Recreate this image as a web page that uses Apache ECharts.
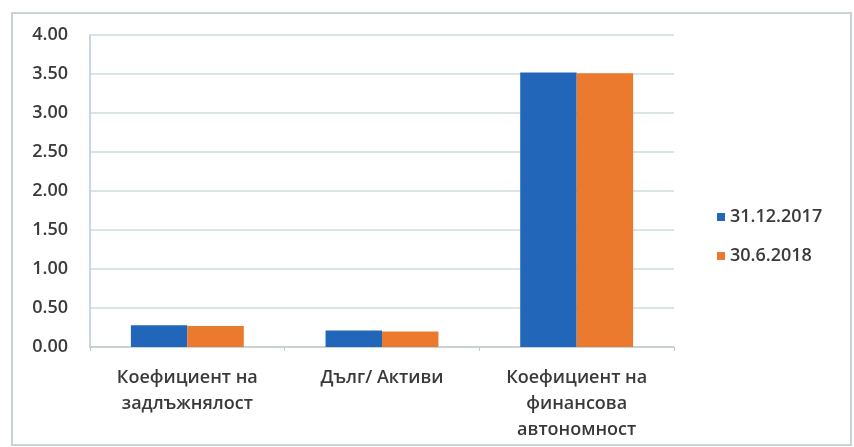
<!DOCTYPE html>
<html>
<head>
<meta charset="utf-8">
<script src="https://cdn.jsdelivr.net/npm/echarts@6/dist/echarts.min.js"></script>
<style>
html,body{margin:0;padding:0;background:#fff;}
#c{width:854px;height:447px;}
</style>
</head>
<body>
<div id="c"></div>
<script>
var categories = ['Коефициент на\nзадлъжнялост', 'Дълг/ Активи', 'Коефициент на\nфинансова\nавтономност'];
var seriesNames = ['31.12.2017', '30.6.2018'];
var values2017 = [0.28, 0.21, 3.52];
var values2018 = [0.27, 0.20, 3.51];
var colors = ['#2266b9', '#ec7a2e'];

var chart = echarts.init(document.getElementById('c'));
var font = '"Open Sans", "DejaVu Sans", sans-serif';
chart.setOption({
  animation: false,
  backgroundColor: '#ffffff',
  color: colors,
  graphic: [{
    type: 'rect',
    shape: {x: 12, y: 13, width: 839, height: 432},
    style: {fill: 'none', stroke: '#c9d3d3', lineWidth: 2}
  }],
  legend: {
    orient: 'vertical',
    left: 712,
    top: 203,
    itemWidth: 8,
    itemHeight: 8,
    itemGap: 21,
    icon: 'rect',
    textStyle: {color: '#3a3a3a', fontSize: 18, fontWeight: 600, fontFamily: font},
    data: seriesNames
  },
  grid: {left: 90, right: 180, top: 35, bottom: 100, containLabel: false},
  xAxis: {
    type: 'category',
    data: categories,
    axisLine: {show: true, lineStyle: {color: '#c4cccc', width: 1.5}},
    axisTick: {show: true, length: 4, lineStyle: {color: '#c4cccc'}},
    axisLabel: {color: '#3a3a3a', fontSize: 18, fontWeight: 600, fontFamily: font, lineHeight: 26, margin: 18, interval: 0}
  },
  yAxis: {
    type: 'value',
    min: 0,
    max: 4,
    interval: 0.5,
    axisLine: {show: true, lineStyle: {color: '#b8c8d8', width: 1.5}},
    axisTick: {show: false},
    axisLabel: {color: '#3a3a3a', fontSize: 18, fontWeight: 600, fontFamily: font, margin: 22,
      formatter: function (v) { return v.toFixed(2); }},
    splitLine: {lineStyle: {color: '#cbdcdc', width: 1.5}}
  },
  series: [
    {name: seriesNames[0], type: 'bar', data: values2017, barGap: '0%', barCategoryGap: '42%'},
    {name: seriesNames[1], type: 'bar', data: values2018, barGap: '0%', barCategoryGap: '42%'}
  ]
});
</script>
</body>
</html>
